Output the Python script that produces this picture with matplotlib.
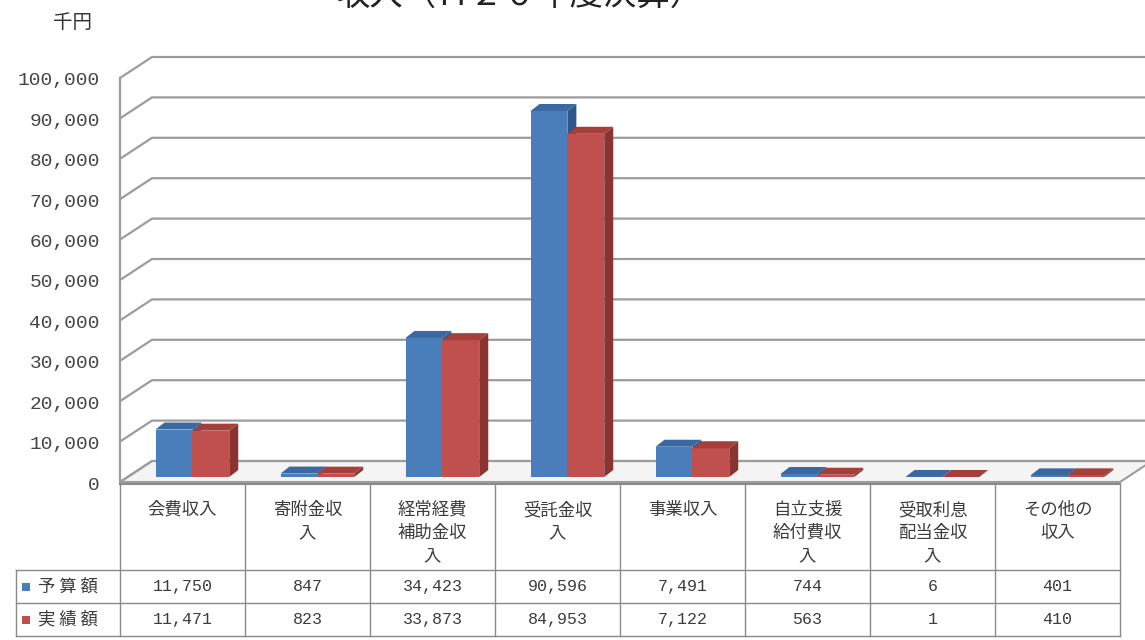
import matplotlib
matplotlib.use("Agg")
import matplotlib.pyplot as plt
from matplotlib.patches import Polygon, Rectangle

# ---------------- data ----------------
title = "収入（Ｈ２０年度決算）"
unit_label = "千円"
categories = ["会費収入", "寄附金収入", "経常経費補助金収入", "受託金収入",
              "事業収入", "自立支援給付費収入", "受取利息配当金収入", "その他の収入"]
series_names = ["予 算 額", "実 績 額"]
budget = [11750, 847, 34423, 90596, 7491, 744, 6, 401]
actual = [11471, 823, 33873, 84953, 7122, 563, 1, 410]
yticks = list(range(0, 100001, 10000))

front_colors = ["#4A7EBB", "#C0504D"]
side_colors = ["#2D5889", "#8A3432"]
top_colors = ["#3A68A0", "#A53F3C"]

plt.rcParams["font.family"] = ["Noto Sans CJK JP", "DejaVu Sans"]

W, H = 1145, 640
fig = plt.figure(figsize=(W / 100, H / 100), dpi=100)
fig.patch.set_facecolor("white")

# plot geometry (pixels)
X0, X1 = 120, 1120
Y0, YTOP = 482, 78
CATPX = (X1 - X0) / len(categories)
PXV = (Y0 - YTOP) / 100000.0

ax = fig.add_axes([X0 / W, 1 - Y0 / H, (X1 - X0) / W, (Y0 - YTOP) / H])
ax.set_xlim(0, len(categories))
ax.set_ylim(0, 100000)
ax.axis("off")


def dxc(px):
    return px / CATPX


def dyv(px):
    return px / PXV


DX, DY = dxc(32), dyv(21)
n = len(categories)
grid_c = "#9c9c9c"

# floor
floor = Polygon([(0, 0), (n, 0), (n + DX, DY), (DX, DY)], closed=True,
                facecolor="#f4f4f4", edgecolor=grid_c, lw=1.5, zorder=1, clip_on=False)
ax.add_patch(floor)

# gridlines (left wall diagonals + back wall horizontals)
for v in yticks:
    ax.plot([0, DX, n + DX + 1], [v, v + DY, v + DY], color=grid_c, lw=1.6,
            zorder=1.5, clip_on=False, solid_capstyle="butt")
    lab = f"{v:,}"
    ax.text(dxc(-20), v - dyv(3), lab, ha="right", va="center", fontsize=14,
            family="Liberation Mono", color="#454545", clip_on=False)
ax.plot([0, 0], [0, 100000], color=grid_c, lw=1.6, zorder=1.6, clip_on=False)

# 3D bars
BW = 0.295
OFF = 0.22
fdx, fdy = dxc(8), dyv(5)
bdx, bdy = dxc(9), dyv(7)
for i in range(n):
    for s, vals in enumerate([budget, actual]):
        v = vals[i]
        xl = i + OFF + s * BW + fdx
        y0 = fdy
        ax.bar(xl, v, width=BW, bottom=y0, align="edge", color=front_colors[s],
               edgecolor="none", zorder=3 + i * 0.1 + s * 0.01, clip_on=False)
        side = Polygon([(xl + BW, y0), (xl + BW + bdx, y0 + bdy),
                        (xl + BW + bdx, y0 + v + bdy), (xl + BW, y0 + v)],
                       closed=True, facecolor=side_colors[s], edgecolor="none",
                       zorder=3 + i * 0.1 + s * 0.01, clip_on=False)
        top = Polygon([(xl, y0 + v), (xl + BW, y0 + v), (xl + BW + bdx, y0 + v + bdy),
                       (xl + bdx, y0 + v + bdy)], closed=True,
                      facecolor=top_colors[s], edgecolor="none",
                      zorder=3 + i * 0.1 + s * 0.01, clip_on=False)
        ax.add_patch(side)
        ax.add_patch(top)

# ---------------- data table ----------------
tax = fig.add_axes([0, 0, 1, 1], zorder=-1)
tax.set_xlim(0, W)
tax.set_ylim(H, 0)
tax.axis("off")

line_c = "#8a8a8a"
T_TOP, T_HDR, T_R1, T_R2 = 484, 570, 603, 636
LEFT = 16
tax.plot([X0, X1], [T_TOP, T_TOP], color=line_c, lw=1.5)
for yy in (T_HDR, T_R1, T_R2):
    tax.plot([LEFT, X1], [yy, yy], color=line_c, lw=1.0)
for k in range(n + 1):
    xx = X0 + k * CATPX
    tax.plot([xx, xx], [T_TOP, T_R2], color=line_c, lw=1.0)
tax.plot([LEFT, LEFT], [T_HDR, T_R2], color=line_c, lw=1.0)

txt_c = "#3c3c3c"
for i, cat in enumerate(categories):
    cx = X0 + (i + 0.5) * CATPX
    lines = [cat[j:j + 4] for j in range(0, len(cat), 4)]
    for k, ln in enumerate(lines):
        tax.text(cx, 510 + k * 23, ln, ha="center", va="center", fontsize=12.5,
                 color=txt_c)
    for r, vals in enumerate([budget, actual]):
        ry = (T_HDR + T_R1) / 2 if r == 0 else (T_R1 + T_R2) / 2
        tax.text(cx, ry, f"{vals[i]:,}", ha="center", va="center", fontsize=12,
                 family="Liberation Mono", color=txt_c)

for r, name in enumerate(series_names):
    ry = (T_HDR + T_R1) / 2 if r == 0 else (T_R1 + T_R2) / 2
    tax.add_patch(Rectangle((22, ry - 4), 8, 8, facecolor=front_colors[r], edgecolor="none"))
    tax.text(38, ry, name, ha="left", va="center", fontsize=12.5, color=txt_c)

# title (cut off at the top as in the source image) and unit label
fig.text(520 / W, 1 - 5 / H, title, ha="center", va="baseline", fontsize=24, color="#222222")
fig.text(73 / W, 1 - 22 / H, unit_label, ha="center", va="center", fontsize=14, color="#333333")

fig.savefig("out.png", dpi=100, facecolor="white")
